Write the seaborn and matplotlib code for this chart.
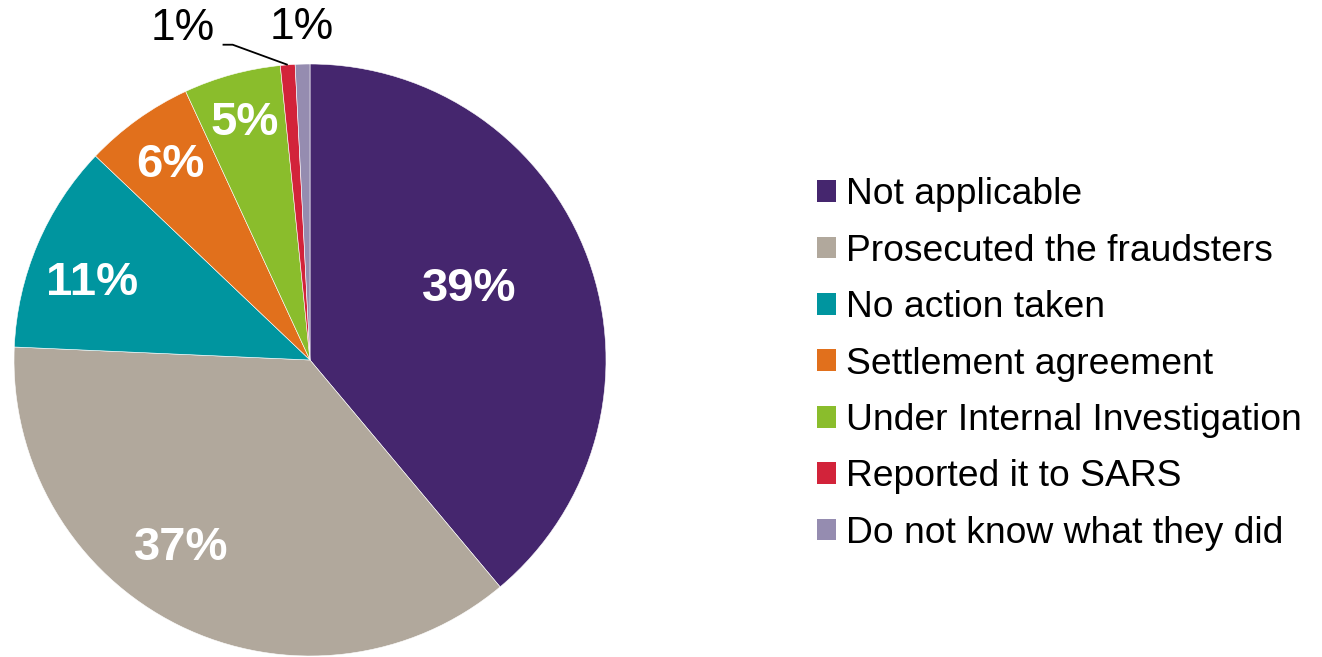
import matplotlib
matplotlib.use("Agg")
import matplotlib.pyplot as plt
import seaborn as sns
import numpy as np
from matplotlib.patches import Patch

categories = ["Not applicable", "Prosecuted the fraudsters", "No action taken",
              "Settlement agreement", "Under Internal Investigation",
              "Reported it to SARS", "Do not know what they did"]
values = [38.9, 36.8, 11.4, 6.0, 5.3, 0.8, 0.8]
pct_labels = ["39%", "37%", "11%", "6%", "5%", "1%", "1%"]
colors = ["#45266E", "#B1A89C", "#00959F", "#E1701C", "#8ABD2C", "#D2233A", "#958CB0"]

sns.set_theme(style="white")
plt.rcParams["font.family"] = ["Liberation Sans", "DejaVu Sans"]
plt.rcParams["text.color"] = "black"

fig = plt.figure(figsize=(13.22, 6.57), dpi=100)
ax = fig.add_axes([14/1322, 1/657, 592/1322, 592/657])
palette = sns.color_palette(colors)
wedges, _ = ax.pie(values, colors=palette, startangle=90, counterclock=False,
                   radius=1, center=(0, 0),
                   wedgeprops=dict(edgecolor="white", linewidth=0.4))
ax.set_xlim(-1, 1)
ax.set_ylim(-1, 1)
ax.set_aspect("equal")
ax.axis("off")

# label placement: radial distance and angular shift (deg, counter-clockwise) from wedge middle
inner_dist = [0.59, 0.77, 0.78, 0.81, 0.83]
inner_shift = [4, -8, 3.5, 0, 0]
for i, w in enumerate(wedges):
    mid_deg = (w.theta1 + w.theta2) / 2
    if i < 5:
        a = np.deg2rad(mid_deg + inner_shift[i])
        r = inner_dist[i]
        ax.text(r*np.cos(a), r*np.sin(a), pct_labels[i], ha="center", va="center",
                color="white", fontsize=34, fontweight="bold")
    elif i == 5:
        a = np.deg2rad(mid_deg)
        px, py = np.cos(a), np.sin(a)
        ex, ey = px - 0.186, py + 0.068
        sx = ex - 0.034
        ax.plot([px, ex, sx], [py, ey, ey], color="black", lw=1.3,
                solid_capstyle="butt", clip_on=False)
        ax.text(sx - 0.027, ey + 0.054, pct_labels[i], ha="right", va="center",
                fontsize=32, color="black", clip_on=False)
    else:
        a = np.deg2rad(mid_deg)
        r = 1.125
        ax.text(r*np.cos(a), r*np.sin(a), pct_labels[i], ha="center", va="center",
                fontsize=32, color="black", clip_on=False)

handles = [Patch(facecolor=c, edgecolor="none") for c in palette]
fig.legend(handles, categories, loc="center left", bbox_to_anchor=(817/1322, 1 - 364/657),
           frameon=False, fontsize=26.8, handlelength=0.52, handleheight=0.52,
           handletextpad=0.27, labelspacing=0.575, borderpad=0, borderaxespad=0,
           labelcolor="black")

fig.savefig("out.png", dpi=100)
